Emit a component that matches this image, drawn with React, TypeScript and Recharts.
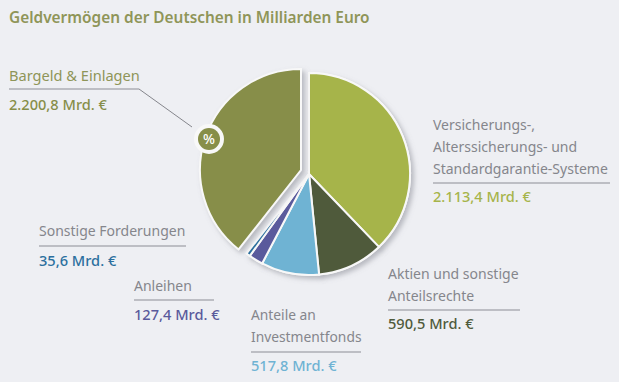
import React from 'react';
import { PieChart, Pie, Cell } from 'recharts';

const categories = [
  'Versicherungs-, Alterssicherungs- und Standardgarantie-Systeme',
  'Aktien und sonstige Anteilsrechte',
  'Anteile an Investmentfonds',
  'Anleihen',
  'Sonstige Forderungen',
  'Bargeld & Einlagen',
];
const values = [2113.4, 590.5, 517.8, 127.4, 35.6, 2200.8];
const colors = ['#a6b44a', '#4f5a3b', '#6fb3d3', '#5a5a9c', '#2b6f9e', '#878e49'];
const valueLabels = ['2.113,4 Mrd. €', '590,5 Mrd. €', '517,8 Mrd. €', '127,4 Mrd. €', '35,6 Mrd. €', '2.200,8 Mrd. €'];
const title = 'Geldvermögen der Deutschen in Milliarden Euro';

const data = categories.map((name, i) => ({ name, value: values[i] }));
const FONT = '"Noto Sans", sans-serif';
const GREY = '#85868c';

type CalloutProps = {
  x: number;
  lines: string[];
  lineYs: number[];
  ruleY: number;
  ruleEnd: number;
  valueY: number;
  index: number;
  labelColor?: string;
  labelSize?: number;
};

const Callout = ({ x, lines, lineYs, ruleY, ruleEnd, valueY, index, labelColor = GREY, labelSize = 14 }: CalloutProps) => (
  <g fontFamily={FONT}>
    {lines.map((l, i) => (
      <text key={l} x={x} y={lineYs[i]} fontSize={labelSize} fill={labelColor}>{l}</text>
    ))}
    <line x1={x} x2={ruleEnd} y1={ruleY} y2={ruleY} stroke="#8c8d96" strokeWidth={1.2} />
    <text x={x} y={valueY} fontSize={14.6} fontWeight={500} fill={colors[index]}>{valueLabels[index]}</text>
  </g>
);

const App = () => {
  const slice = (show: (i: number) => boolean, filter?: string) =>
    data.map((d, i) => (
      <Cell
        key={d.name}
        fill={show(i) ? colors[i] : 'none'}
        stroke={show(i) ? '#f8f8f8' : 'none'}
        strokeWidth={2}
        filter={show(i) ? filter : undefined}
      />
    ));

  const pieProps = {
    data,
    dataKey: 'value',
    outerRadius: 101,
    startAngle: 90,
    endAngle: -270,
    isAnimationActive: false,
  };

  return (
    <div style={{ position: 'fixed', left: 0, top: 0, width: 619, height: 382, background: '#eeeff3', overflow: 'hidden' }}>
      <PieChart width={619} height={382} margin={{ top: 0, right: 0, bottom: 0, left: 0 }}>
        <defs>
          <filter id="soft" x="-20%" y="-20%" width="140%" height="140%">
            <feDropShadow dx="3" dy="3" stdDeviation="2.5" floodColor="#80828c" floodOpacity="0.5" />
          </filter>
        </defs>
        <Pie {...pieProps} cx={309} cy={174}>
          {slice((i) => i !== 5, 'url(#soft)')}
        </Pie>
        <Pie {...pieProps} cx={309} cy={174}>
          {slice((i) => i !== 5)}
        </Pie>
        <Pie {...pieProps} cx={301} cy={170}>
          {slice((i) => i === 5, 'url(#soft)')}
        </Pie>
      </PieChart>
      <svg width={619} height={382} style={{ position: 'absolute', left: 0, top: 0 }}>
        <text x={9} y={23} fontFamily={FONT} fontSize={15.4} fontWeight={600} fill="#8f9558">{title}</text>

        <polyline points="139,89 192,127" fill="none" stroke="#85868c" strokeWidth={1} />
        <circle cx={209} cy={139} r={15} fill="#f8f8f8" />
        <circle cx={209} cy={139} r={11} fill={colors[5]} />
        <text x={209} y={144} textAnchor="middle" fontFamily={FONT} fontSize={14} fontWeight={500} fill="#ffffff">%</text>

        <Callout x={9} lines={['Bargeld & Einlagen']} lineYs={[81]} ruleY={89} ruleEnd={139} valueY={110} index={5} labelColor="#8f9558" labelSize={14.6} />
        <Callout x={39} lines={['Sonstige Forderungen']} lineYs={[236]} ruleY={246} ruleEnd={186} valueY={266} index={4} />
        <Callout x={134} lines={['Anleihen']} lineYs={[291]} ruleY={300} ruleEnd={214} valueY={320} index={3} />
        <Callout x={251} lines={['Anteile an', 'Investmentfonds']} lineYs={[320, 342]} ruleY={352} ruleEnd={361} valueY={371} index={2} labelSize={13.8} />
        <Callout x={433} lines={['Versicherungs-,', 'Alterssicherungs- und', 'Standardgarantie-Systeme']} lineYs={[130, 152, 174]} ruleY={183} ruleEnd={610} valueY={202} index={0} />
        <Callout x={388} lines={['Aktien und sonstige', 'Anteilsrechte']} lineYs={[279, 301]} ruleY={310} ruleEnd={520} valueY={329} index={1} />
      </svg>
    </div>
  );
};

export default App;
